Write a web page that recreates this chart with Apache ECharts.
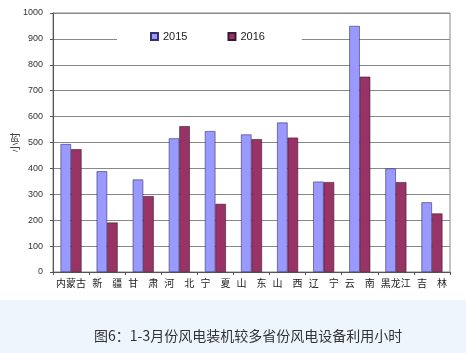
<!DOCTYPE html>
<html>
<head>
<meta charset="utf-8">
<script src="https://cdn.jsdelivr.net/npm/echarts@6/dist/echarts.min.js"></script>
<style>
  html, body { margin: 0; padding: 0; background: #fff; }
  #main { width: 466px; height: 353px; }
</style>
</head>
<body>
<div id="main"></div>
<script>
// 省份及两年的利用小时
var provinces = ['内蒙古', '新疆', '甘肃', '河北', '宁夏', '山东', '山西', '辽宁', '云南', '黑龙江', '吉林'];
var hours2015 = [494, 389, 357, 516, 544, 531, 577, 349, 950, 400, 269];
var hours2016 = [474, 191, 293, 563, 263, 513, 519, 347, 754, 347, 226];
var yTicks = [0, 100, 200, 300, 400, 500, 600, 700, 800, 900, 1000];

var myChart = echarts.init(document.getElementById('main'));

var option = {
  animation: false,
  backgroundColor: '#fff',
  textStyle: { fontFamily: 'Noto Sans CJK SC' },
  graphic: [
    {
      type: 'rect',
      z: -10,
      shape: { x: 0, y: 300, width: 466, height: 53 },
      style: { fill: '#EEF5FC' }
    },
    {
      type: 'text',
      left: 94,
      top: 329,
      style: {
        text: '图6：1-3月份风电装机较多省份风电设备利用小时',
        fontSize: 14,
        fill: '#333',
        fontFamily: 'Noto Sans CJK SC'
      }
    }
  ],
  legend: {
    data: ['2015', '2016'],
    left: 117,
    top: 27,
    itemWidth: 7,
    itemHeight: 7,
    itemGap: 40,
    padding: [4, 37, 4, 33],
    backgroundColor: '#fff',
    textStyle: { fontSize: 11, color: '#222', fontFamily: 'Arial' },
    icon: 'rect',
    z: 10
  },
  grid: {
    left: 53,
    right: 16,
    top: 13,
    bottom: 81,
    containLabel: false,
    outerBoundsMode: 'none',
    show: true,
    borderColor: '#888',
    borderWidth: 1
  },
  xAxis: {
    type: 'category',
    data: provinces,
    axisLine: { lineStyle: { color: '#555' } },
    axisTick: { show: true, length: 3, lineStyle: { color: '#555' } },
    axisLabel: {
      fontSize: 10,
      color: '#222',
      interval: 0,
      margin: 6,
      formatter: function (v) {
        return v.length === 2 ? v[0] + '\u3000' + v[1] : v;
      }
    }
  },
  yAxis: {
    type: 'value',
    min: yTicks[0],
    max: yTicks[yTicks.length - 1],
    interval: 100,
    name: '小时',
    nameLocation: 'middle',
    nameGap: 33,
    nameMoveOverlap: false,
    nameRotate: 90,
    nameTextStyle: { fontSize: 10, color: '#444' },
    axisLine: { show: true, lineStyle: { color: '#555' } },
    axisTick: { show: true, length: 3, lineStyle: { color: '#555' } },
    axisLabel: {
      fontSize: 9,
      color: '#333',
      fontFamily: 'Arial',
      margin: 10,
      formatter: function (v) { return String(v); }
    },
    splitLine: { lineStyle: { color: '#888', width: 1 } }
  },
  series: [
    {
      name: '2015',
      type: 'bar',
      data: hours2015,
      barWidth: 10.5,
      barGap: '0%',
      itemStyle: { color: '#9999FF', borderColor: '#33336a', borderWidth: 0.6 }
    },
    {
      name: '2016',
      type: 'bar',
      data: hours2016,
      barWidth: 10.5,
      itemStyle: { color: '#993366', borderColor: '#3a1a30', borderWidth: 0.6 }
    }
  ]
};

myChart.setOption(option);
</script>
</body>
</html>
